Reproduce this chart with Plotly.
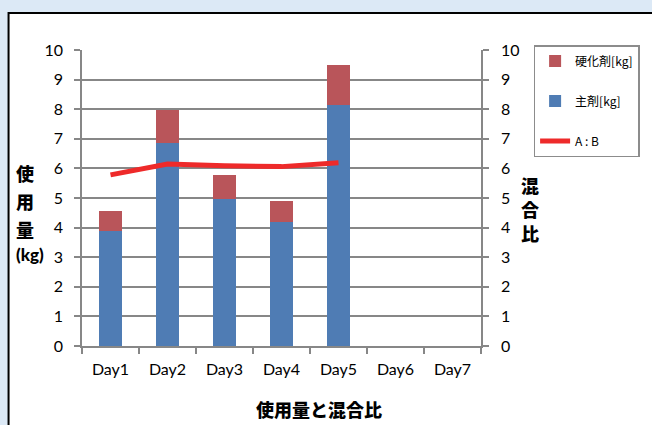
import plotly.graph_objects as go

days = ["Day1", "Day2", "Day3", "Day4", "Day5", "Day6", "Day7"]
main_agent = [3.87, 6.87, 4.95, 4.2, 8.15, None, None]
hardener = [0.68, 1.12, 0.82, 0.7, 1.33, None, None]
ratio = [5.78, 6.15, 6.09, 6.06, 6.19, None, None]
y_ticks = [0, 1, 2, 3, 4, 5, 6, 7, 8, 9, 10]

W, H = 652, 425
L, R, T, B = 82, 484, 50, 346

def px(x):
    return (x - L) / (R - L)

def py(y):
    return (B - y) / (B - T)

JP = "Noto Sans CJK JP"
NUM = "Lato"
GRID = "#878787"

fig = go.Figure()
fig.add_trace(go.Bar(x=days, y=main_agent, name="主剤[kg]", marker_color="#4f7cb4",
                     marker_line_width=0, legendrank=2, legendgroup="b"))
fig.add_trace(go.Bar(x=days, y=hardener, name="硬化剤[kg]", marker_color="#b9555a",
                     marker_line_width=0, legendrank=1, legendgroup="a"))
fig.add_trace(go.Scatter(x=days, y=ratio, name="A : B", mode="lines",
                         line=dict(color="#ee2a2a", width=5), yaxis="y2",
                         legendrank=3, legendgroup="c"))

fig.update_layout(
    width=W, height=H,
    margin=dict(l=L, r=W - R, t=T, b=H - B, pad=0),
    paper_bgcolor="#dce9f6", plot_bgcolor="white",
    barmode="stack", bargap=0.6,
    font=dict(family=NUM, size=15, color="#000"),
    xaxis=dict(categoryorder="array", categoryarray=days, tickson="boundaries",
               ticks="outside", ticklen=6, tickcolor=GRID, tickwidth=1.5,
               showline=True, linecolor=GRID, linewidth=1.5, showgrid=False,
               tickfont=dict(family=NUM, size=16), ticklabelstandoff=8,
               range=[-0.5, 6.5]),
    yaxis=dict(range=[0, 10], tickvals=y_ticks, ticks="outside", ticklen=6,
               tickcolor=GRID, tickwidth=1.5, showline=True, linecolor=GRID,
               linewidth=1.5, showgrid=True, gridcolor=GRID, gridwidth=1.5,
               zeroline=False, tickfont=dict(family=NUM, size=16),
               ticklabelstandoff=8),
    yaxis2=dict(range=[0, 10], tickvals=y_ticks, overlaying="y", side="right",
                ticks="outside", ticklen=6, tickcolor=GRID, tickwidth=1.5,
                showline=True, linecolor=GRID, linewidth=1.5, showgrid=False,
                zeroline=False, tickfont=dict(family=NUM, size=16),
                ticklabelstandoff=9),
    legend=dict(x=px(537), y=py(45), xanchor="left", yanchor="top",
                bgcolor="white", bordercolor="#8c8c8c", borderwidth=1.5,
                traceorder="grouped", tracegroupgap=21,
                font=dict(family=JP, size=12), itemwidth=30),
    showlegend=True,
)

shapes = [dict(type="rect", xref="paper", yref="paper", layer="below",
               x0=px(8), x1=px(700), y0=py(470), y1=py(13),
               fillcolor="white", line=dict(color="black", width=2))]
fig.update_layout(shapes=shapes)

def note(text, x, y, family, size=17):
    return dict(text=text, x=px(x), y=py(y), xref="paper", yref="paper",
                xanchor="center", yanchor="middle", showarrow=False,
                font=dict(family=family, size=size, weight=900))

ann = []
for ch, y in zip(["使", "用", "量"], [173, 201, 229]):
    ann.append(note(ch, 25, y, JP, 18))
ann.append(note("(kg)", 30, 254, NUM, 17))
for ch, y in zip(["混", "合", "比"], [185, 209, 233]):
    ann.append(note(ch, 533, y, JP, 18))
ann.append(note("使用量と混合比", 321, 409, JP, 18))
fig.update_layout(annotations=ann)

fig.write_html("out.html", config={"displayModeBar": False},
               post_script="document.body.style.margin='0';document.body.style.overflow='hidden';document.body.style.background='#dce9f6';")
